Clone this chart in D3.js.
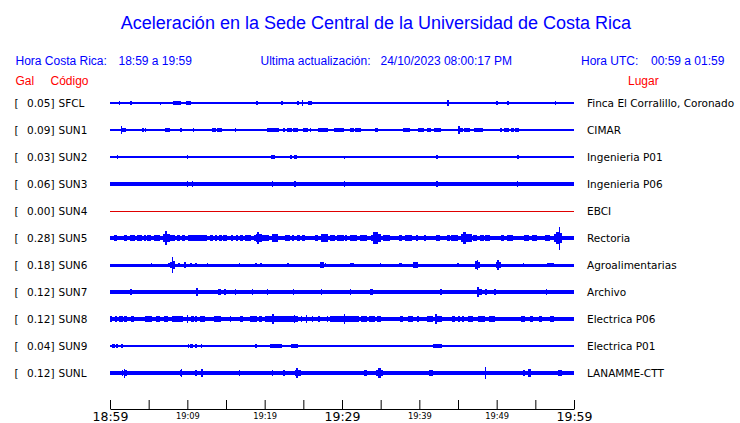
<!DOCTYPE html>
<html><head><meta charset="utf-8">
<script src="https://cdn.jsdelivr.net/npm/d3@7"></script>
<style>body{margin:0;background:#fff}svg{display:block}</style>
</head><body><svg id="c" width="740" height="423"></svg>
<script>
// ---- data ----
const stations = ["SFCL","SUN1","SUN2","SUN3","SUN4","SUN5","SUN6","SUN7","SUN8","SUN9","SUNL"];
const peakGal = [0.05,0.09,0.03,0.06,0.00,0.28,0.18,0.12,0.12,0.04,0.12];
const places = ["Finca El Corralillo, Coronado","CIMAR","Ingenieria P01","Ingenieria P06","EBCI","Rectoria","Agroalimentarias","Archivo","Electrica P06","Electrica P01","LANAMME-CTT"];
const tickLabels = ["18:59","19:09","19:19","19:29","19:39","19:49","19:59"];
// background (noise) amplitude of each trace, relative units
const baseAmp = [0.8,0.7,0.7,1.7,0.5,2,1.5,1.7,1.7,0.7,1.7];
// bursts: [start minute, end minute, amplitude]
const evSFCL = [[0.04,0.30,1.3],[0.65,0.78,1.3],[1.07,1.33,2.3],[1.51,1.68,1.3],[2.59,2.81,2.3],[5.47,5.56,1.5],[6.47,6.56,1.5],[7.63,7.72,1],[8.15,9.18,1.7],[9.83,10.44,1.7],[11.68,11.77,1],[17.11,17.2,1],[18.88,19.14,1.7],[22.11,22.33,1.7],[24.18,24.40,1.7],[24.83,24.92,2.7],[25.6,26.12,1.7],[26.21,26.3,1],[43.58,43.84,2.7],[49.87,50.13,1.7],[51.3,51.56,1.7],[51.72,51.89,1],[52.41,52.5,1.3],[52.8,52.9,1.3],[53.44,53.53,1],[57.54,57.63,1.7]];
const evSUN1 = [[0.04,0.13,1],[0.39,0.48,1.3],[0.65,0.74,1],[1.36,1.55,4.3],[1.55,2.03,2],[2.81,2.88,1.3],[3.75,3.84,1.3],[4.14,4.31,1.7],[4.53,4.62,1.7],[4.95,5.04,1.3],[5.21,5.3,0.9],[7.11,7.72,1.7],[7.76,8.15,1.3],[8.57,8.66,1.3],[9.01,9.27,1.7],[9.7,9.79,1],[10.73,10.9,1.7],[11.16,11.25,1],[12.03,12.12,1.3],[12.8,12.89,1],[13.23,13.67,1.7],[13.84,14.44,1.7],[14.78,14.87,1.3],[16.16,16.33,2.3],[16.77,16.85,1.3],[17.11,17.29,1.3],[17.55,17.62,1.3],[18.4,18.49,1],[19.18,19.27,1.3],[20.21,20.65,1.7],[20.73,20.91,2.3],[20.91,21.85,1.7],[22.37,22.63,2],[22.89,23.5,1.7],[23.66,24.35,2],[24.53,24.87,1.3],[24.87,25.64,2.3],[25.82,25.99,2],[26.94,27.38,1.7],[27.45,28.15,2],[29.0,30.26,2],[31.03,31.46,1.7],[31.64,31.98,2],[31.98,32.5,1.7],[32.93,33.01,1.3],[33.53,33.71,1.3],[34.23,34.56,1.7],[36.21,36.56,1.3],[37.85,38.79,1.7],[38.19,38.37,2.3],[39.83,40.51,1.7],[40.95,41.55,1.7],[41.9,42.76,1.7],[43.71,43.88,1.3],[44.39,44.48,1],[44.91,45.17,4.3],[45.17,45.61,2],[45.78,46.55,1.7],[47.07,48.19,1.7],[48.53,48.71,1.3],[49.14,49.31,1.3],[49.66,49.82,1.3],[50.43,50.69,1.7],[50.95,51.56,1.7],[51.81,52.24,1.7],[52.33,52.85,1.7],[54.22,54.31,1],[56.47,56.56,1]];
const evSUN2 = [[0.81,1.0,1.7],[1.51,1.59,1.7],[9.96,10.12,1.7],[10.99,11.08,1.3],[11.42,11.6,1.3],[20.82,21.34,1.7],[23.24,23.5,1.7],[23.75,24.18,1.7],[25.38,25.47,1.3],[30.22,30.39,1.5],[33.62,33.71,1.3],[34.14,34.23,1],[34.91,35.0,1.3],[38.53,38.62,1],[42.16,42.42,1.7],[44.57,44.66,1],[52.59,52.85,1.7],[53.28,53.37,1.3],[55.51,55.6,1]];
const evSUN3 = [[0,11.6,2],[0.81,0.9,2.7],[9.96,10.05,2.7],[10.64,10.73,2.7],[13.06,13.15,2.3],[20.91,21.08,2.7],[23.75,24.09,3],[30.22,30.39,3],[42.16,42.33,2.7],[52.59,52.76,2.7],[53.28,53.37,2.3]];
const evSUN4 = [];
const evSUN5 = [[0.04,0.48,2.3],[0.48,0.91,3],[0.91,1.25,2.3],[1.85,2.2,2.7],[2.55,3.23,2.7],[3.49,4.1,2.7],[4.44,4.69,3],[4.78,5.21,3.3],[5.65,5.91,2.7],[5.99,6.5,3],[6.76,7.11,3.7],[7.11,7.37,6.7],[7.37,7.8,4.3],[7.8,8.41,3],[8.57,9.01,2.7],[9.35,9.7,2.7],[10.12,10.9,3],[10.9,12.54,2.7],[12.89,13.32,3],[13.58,13.84,2.7],[14.09,14.44,3],[14.61,15.13,3.3],[15.56,15.91,2.7],[16.25,16.59,2.7],[16.77,17.2,2.7],[17.46,18.23,3],[18.58,18.84,3.3],[18.84,19.62,4],[19.01,19.27,6],[19.62,20.47,3],[20.91,21.69,3.7],[22.63,23.24,2.7],[23.5,23.75,2.7],[24.18,24.53,2.7],[24.79,25.22,2.7],[25.99,26.34,2.3],[26.51,26.94,2.7],[27.28,28.15,3.7],[28.49,29.09,2.7],[29.35,30.3,2.7],[30.35,30.69,2.7],[31.03,31.98,3],[32.33,33.19,2.7],[33.71,34.05,3.3],[34.05,34.56,6.3],[34.56,35.08,3.7],[35.34,36.12,2.7],[37.33,37.76,2.7],[38.19,39.05,3],[39.57,39.83,2.7],[40.51,40.86,2.7],[42.06,42.67,3],[43.54,43.97,2.7],[44.13,45.0,3],[45.35,45.61,4],[45.61,46.03,6.3],[46.03,46.81,3.7],[46.98,47.42,3],[47.85,48.27,2.7],[48.53,49.14,2.7],[50.6,50.86,2.7],[51.38,52.15,3],[53.53,54.14,3],[54.57,55.18,2.7],[56.21,56.9,3],[57.32,57.67,3.7],[57.67,57.97,6],[57.97,58.15,11.5],[58.15,58.45,5],[58.45,59.91,2.3]];
const evSUN6 = [[5.21,5.39,2.3],[7.46,7.72,2.3],[7.8,7.98,3],[7.98,8.15,8],[8.15,8.41,3.7],[8.83,9.09,2.3],[9.53,9.79,3.3],[10.38,10.64,2.3],[10.99,11.25,2.3],[12.54,12.63,2],[16.68,16.85,2],[18.66,18.92,2],[19.36,19.62,2],[22.89,23.15,2],[27.12,27.63,2.7],[27.8,27.89,2],[31.03,31.55,2.3],[34.91,35.0,2],[37.33,37.76,2],[39.14,39.83,2.7],[44.83,45.09,2],[47.16,47.42,3.7],[47.42,47.59,5],[47.59,47.85,3],[49.91,50.08,3],[50.08,50.26,5],[50.26,50.6,3],[53.37,53.46,2],[56.47,57.32,2]];
const evSUN7 = [[1.33,1.42,2.3],[2.62,2.81,2.7],[6.17,6.25,2.7],[11.08,11.34,3.7],[13.23,13.32,2.3],[14.0,14.26,2.7],[14.7,15.04,3.3],[15.39,15.48,2.3],[16.16,16.33,2.7],[16.77,16.86,2.3],[18.4,18.49,2.7],[20.21,20.39,2.7],[23.66,23.75,2.7],[27.28,27.45,3.3],[29.09,29.26,2.3],[31.03,31.2,3.3],[32.33,32.5,2.3],[33.62,33.97,3],[36.21,36.47,2.3],[37.41,37.5,2.3],[41.38,41.47,2],[42.67,42.93,2.7],[47.42,47.75,5.3],[47.75,48.01,2.7],[48.53,48.71,3.3],[49.66,49.82,2.7],[50.86,51.12,2.3],[52.59,52.68,2.3],[53.79,53.88,2],[56.38,56.55,2.7]];
const evSUN8 = [[0.04,0.3,2.7],[0.56,0.81,2.7],[1.07,1.68,3],[1.77,2.11,2.7],[2.72,3.06,2.7],[3.84,4.01,2.3],[4.53,5.39,2.7],[5.91,6.5,3],[6.94,7.46,3],[7.98,9.44,2.7],[9.96,10.12,3.7],[10.47,10.82,2.7],[10.99,11.25,2.7],[11.6,12.28,2.7],[12.8,12.97,2.3],[13.41,14.26,2.7],[14.7,14.96,2.3],[15.48,15.65,2.7],[16.85,17.11,2.7],[18.14,19.01,2.7],[19.27,19.62,2.7],[20.04,20.91,3],[20.91,21.17,5],[21.17,22.2,3.3],[22.2,24.35,3.3],[23.75,23.92,4],[24.61,24.79,2.7],[25.31,25.47,3.7],[26.08,26.25,2.7],[26.94,27.12,2.7],[27.97,28.15,3],[28.49,30.22,2.7],[30.22,30.39,5],[30.39,31.46,3],[31.46,32.16,2.7],[32.42,33.19,3],[33.53,34.23,3],[34.49,35.0,2.7],[35.34,35.6,2.3],[37.41,37.93,2.7],[38.53,39.14,2.7],[39.74,40.0,2.7],[41.03,41.73,2.7],[41.99,42.25,5],[42.25,42.93,3],[44.22,44.65,2.7],[44.91,45.26,2.7],[45.52,45.78,2.7],[46.29,46.98,2.7],[47.59,48.53,2.7],[49.05,49.75,2.7],[50.52,50.61,2.3],[51.89,52.24,2.3],[53.19,53.63,2.7],[54.31,54.74,3],[55.44,55.86,2.7],[56.9,57.32,3.3],[57.32,60,2]];
const evSUN9 = [[0.3,0.56,1.7],[0.74,1.0,1.7],[1.42,1.68,1.7],[3.23,3.58,1.3],[4.62,4.78,1.3],[5.47,5.56,1.3],[6.59,6.76,1.3],[7.02,7.28,1.3],[7.98,8.07,1.3],[8.24,8.5,1.3],[9.27,9.53,1.3],[10.05,10.22,1.7],[10.38,10.73,1.7],[10.99,11.25,1.7],[11.77,11.94,1.7],[12.8,13.06,1.3],[13.41,13.5,1.3],[14.26,14.35,1.3],[18.66,18.92,1.7],[20.73,22.2,1.7],[20.82,21.21,2],[22.46,22.63,1.3],[22.98,23.15,1.3],[23.31,24.35,1.7],[24.7,25.05,1.3],[25.38,25.47,1.3],[27.8,27.89,1.3],[29.0,29.19,1.3],[29.91,30.09,1.3],[30.13,30.22,1.3],[30.43,30.52,1.3],[30.94,31.03,1.3],[31.46,31.72,1.3],[32.76,33.53,1.3],[33.71,33.8,1.3],[34.4,35.08,1.3],[38.53,38.62,1.3],[38.96,39.05,1.3],[41.73,42.93,1.7],[44.39,44.57,1.3],[48.71,49.4,1.3],[50.52,50.61,1.3],[52.15,52.33,1.3],[52.67,52.93,1.3],[53.37,53.7,1.3],[54.31,54.57,1.3],[55.18,55.44,1.3],[57.15,57.24,1.3]];
const evSUNL = [[0.04,1.07,2],[1.51,1.68,2.7],[1.77,1.94,4.5],[1.94,2.2,2.7],[7.8,7.98,2.3],[9.01,9.18,2.7],[9.18,9.35,3.7],[9.35,9.61,2.3],[10.99,11.25,2.7],[11.77,12.03,3.7],[12.8,12.89,2.3],[15.22,15.31,2.3],[16.68,16.77,2.7],[20.21,20.3,3],[20.91,21.08,2.7],[22.37,22.63,3.3],[22.63,23.24,2.3],[23.92,24.61,3],[24.09,24.35,5],[25.9,26.08,2.3],[27.38,28.23,2.3],[28.84,29.09,2],[32.76,33.19,2.7],[33.19,33.62,2.3],[34.4,35.34,2.7],[34.66,35.0,5],[36.21,36.63,2.3],[37.5,38.62,2],[41.21,41.73,3.3],[42.67,42.93,2.3],[44.22,44.83,2.3],[45.52,45.61,2.3],[48.45,48.62,5.7],[53.37,53.7,3],[54.05,54.4,3.7],[54.99,55.6,2.3],[56.81,57.15,2.3],[57.93,58.36,2.7],[59.05,59.91,2]];
const bursts = [evSFCL,evSUN1,evSUN2,evSUN3,evSUN4,evSUN5,evSUN6,evSUN7,evSUN8,evSUN9,evSUNL];

// ---- drawing ----
const svg = d3.select("#c");
const blue = "#0000ff", red = "#ff0000";
const hdr = "'Liberation Sans', Arial, sans-serif";
const mono = "'DejaVu Sans', sans-serif";

svg.append("text").attr("x", 376).attr("y", 29).attr("text-anchor","middle")
  .attr("font-family", hdr).attr("font-size", 18).attr("fill", blue)
  .text("Aceleración en la Sede Central de la Universidad de Costa Rica");

const sub = [
  [15.5, "Hora Costa Rica:"],[118.5, "18:59 a 19:59"],
  [260.5, "Ultima actualización:"],[380.5, "24/10/2023 08:00:17 PM"],
  [581, "Hora UTC:"],[651, "00:59 a 01:59"]];
svg.selectAll("text.sub").data(sub).join("text").attr("class","sub")
  .attr("x", d=>d[0]).attr("y", 65).attr("font-family", hdr).attr("font-size", 12)
  .attr("fill", blue).text(d=>d[1]);
const hd2 = [[15.5,"Gal"],[50.5,"Código"],[628,"Lugar"]];
svg.selectAll("text.hd2").data(hd2).join("text").attr("class","hd2")
  .attr("x", d=>d[0]).attr("y", 85).attr("font-family", hdr).attr("font-size", 12)
  .attr("fill", red).text(d=>d[1]);

const x = d3.scaleLinear().domain([0, 60]).range([110, 574]);
const row = d3.scalePoint().domain(stations).range([103, 373]);
const amp = d3.scaleLinear().domain([0, 12]).range([0, 12]);
const samples = d3.range(0, 60.0001, 0.05);

stations.forEach((s, i) => {
  const cy = row(s);
  const ev = bursts[i];
  const env = samples.map(t => {
    let v = baseAmp[i];
    for (const e of ev) if (t >= e[0] && t < e[1] && e[2] > v) v = e[2];
    return {t, v};
  });
  const area = d3.area().x(d => x(d.t)).y0(d => cy - amp(d.v)).y1(d => cy + amp(d.v))
    .curve(d3.curveStepAfter);
  svg.append("path").attr("d", area(env))
    .attr("fill", s === "SUN4" ? "#e00000" : blue)
    .attr("shape-rendering", "crispEdges");

  const g = svg.append("g").attr("font-family", mono).attr("font-size", 10.5).attr("fill", "#000");
  g.append("text").attr("x", 14.5).attr("y", cy + 4).text("[");
  g.append("text").attr("x", 54.5).attr("y", cy + 4).attr("text-anchor","end").text(peakGal[i].toFixed(2) + "]");
  g.append("text").attr("x", 58.5).attr("y", cy + 4).text(s);
  g.append("text").attr("x", 587).attr("y", cy + 4).text(places[i]);
});

// time axis
const axis = d3.axisBottom(x).tickValues(d3.range(0, 61, 5)).tickSize(-9).tickSizeOuter(0)
  .tickFormat(d => d % 10 === 0 ? tickLabels[d / 10] : "");
const ax = svg.append("g").attr("transform", "translate(0,409)").call(axis);
ax.selectAll("path, line").attr("stroke", "#000");
ax.selectAll("text").attr("font-family", mono).attr("fill", "#000")
  .attr("dy", null)
  .each(function(d) {
    const big = d % 30 === 0;
    d3.select(this).attr("font-size", big ? 12.5 : 8.3).attr("y", big ? 12 : 10);
  });
</script></body></html>
